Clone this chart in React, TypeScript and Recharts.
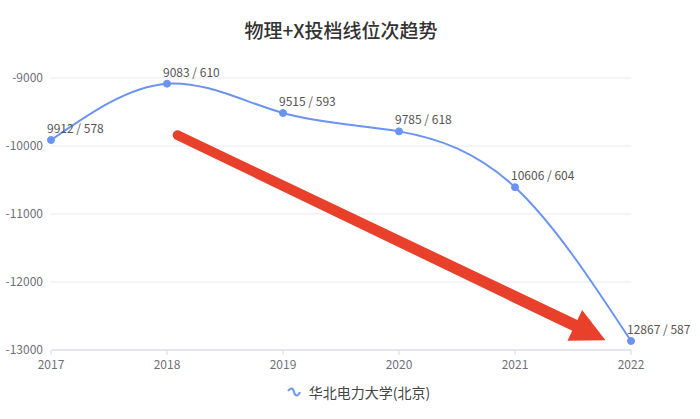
import {
  CartesianGrid,
  LabelList,
  Legend,
  Line,
  LineChart,
  ReferenceLine,
  XAxis,
  YAxis,
} from 'recharts'

const years = [2017, 2018, 2019, 2020, 2021, 2022]
const ranks = [9912, 9083, 9515, 9785, 10606, 12867]
const scores = [578, 610, 593, 618, 604, 587]
const yTicks = [-13000, -12000, -11000, -10000, -9000]

const seriesName = '华北电力大学(北京)'
const title = '物理+X投档线位次趋势'

// hand-drawn red arrow, given in data units
const arrowFrom = { x: 2018.09, y: -9840 }
const arrowTo = { x: 2021.78, y: -12855 }

const chartData = years.map((year, i) => ({
  year,
  rank: -ranks[i],
  label: `${ranks[i]} / ${scores[i]}`,
}))

const BLUE = '#6a93f3'
const RED = '#e8402a'
const GRAY = '#6e7079'

function Arrow(props: any) {
  const { x1, y1, x2, y2 } = props
  if ([x1, y1, x2, y2].some((v) => typeof v !== 'number')) return null
  const dx = x2 - x1
  const dy = y2 - y1
  const len = Math.sqrt(dx * dx + dy * dy)
  const ux = dx / len
  const uy = dy / len
  const nx = -uy
  const ny = ux
  const headLen = 34
  const headW = 17
  const shaftW = 6
  const bx = x2 - ux * headLen
  const by = y2 - uy * headLen
  const pts = [
    [x1 + nx * shaftW * 0.8, y1 + ny * shaftW * 0.8],
    [bx + nx * shaftW, by + ny * shaftW],
    [bx + nx * headW, by + ny * headW],
    [x2, y2],
    [bx - nx * headW, by - ny * headW],
    [bx - nx * shaftW, by - ny * shaftW],
    [x1 - nx * shaftW * 0.8, y1 - ny * shaftW * 0.8],
  ]
  return (
    <g>
      <circle cx={x1} cy={y1} r={shaftW * 0.8} fill={RED} />
      <polygon points={pts.map((p) => p.join(',')).join(' ')} fill={RED} />
    </g>
  )
}

function PointLabel(props: any) {
  const { x, y, value } = props
  return (
    <text x={x - 4} y={y - 7} fill="#555" fontSize={12} textAnchor="start">
      {value}
    </text>
  )
}

function LegendContent() {
  return (
    <div
      style={{
        display: 'flex',
        justifyContent: 'center',
        alignItems: 'center',
        fontSize: 14,
        color: '#444',
        paddingTop: 2,
        paddingLeft: 86,
      }}
    >
      <svg width={14} height={12} style={{ marginRight: 8 }}>
        <path
          d="M1 5 C 4 1, 6 2, 7 6 S 11 11, 13 6"
          stroke={BLUE}
          strokeWidth={2}
          fill="none"
        />
      </svg>
      <span>{seriesName}</span>
    </div>
  )
}

export default function App() {
  return (
    <div
      style={{
        position: 'absolute',
        left: 0,
        top: 0,
        width: 700,
        height: 419,
        background: '#fff',
        fontFamily: '"Noto Sans CJK SC", "Noto Sans", sans-serif',
      }}
    >
      <div
        style={{
          position: 'absolute',
          top: 16,
          left: 0,
          width: 682,
          textAlign: 'center',
          fontSize: 19,
          fontWeight: 500,
          color: '#333',
        }}
      >
        {title}
      </div>
      <LineChart
        width={700}
        height={419}
        data={chartData}
        margin={{ top: 78, right: 69, bottom: 0, left: 0 }}
      >
        <CartesianGrid vertical={false} stroke="#e6e9f0" />
        <XAxis
          dataKey="year"
          type="number"
          domain={[2017, 2022]}
          ticks={years}
          allowDecimals={false}
          height={30}
          stroke="#d6d9e0"
          tickSize={5}
          tickMargin={5}
          tick={{ fill: GRAY, fontSize: 12 }}
        />
        <YAxis
          domain={[-13000, -9000]}
          ticks={yTicks}
          width={51}
          axisLine={false}
          tickLine={false}
          tick={{ fill: GRAY, fontSize: 12 }}
        />
        <Legend height={39} content={<LegendContent />} />
        <ReferenceLine
          segment={[arrowFrom, arrowTo]}
          shape={<Arrow />}
          ifOverflow="visible"
        />
        <Line
          type="natural"
          dataKey="rank"
          name={seriesName}
          stroke={BLUE}
          strokeWidth={2}
          dot={{ r: 3.5, fill: BLUE, stroke: BLUE, strokeWidth: 1 }}
          isAnimationActive={false}
        >
          <LabelList dataKey="label" content={<PointLabel />} />
        </Line>
      </LineChart>
    </div>
  )
}
